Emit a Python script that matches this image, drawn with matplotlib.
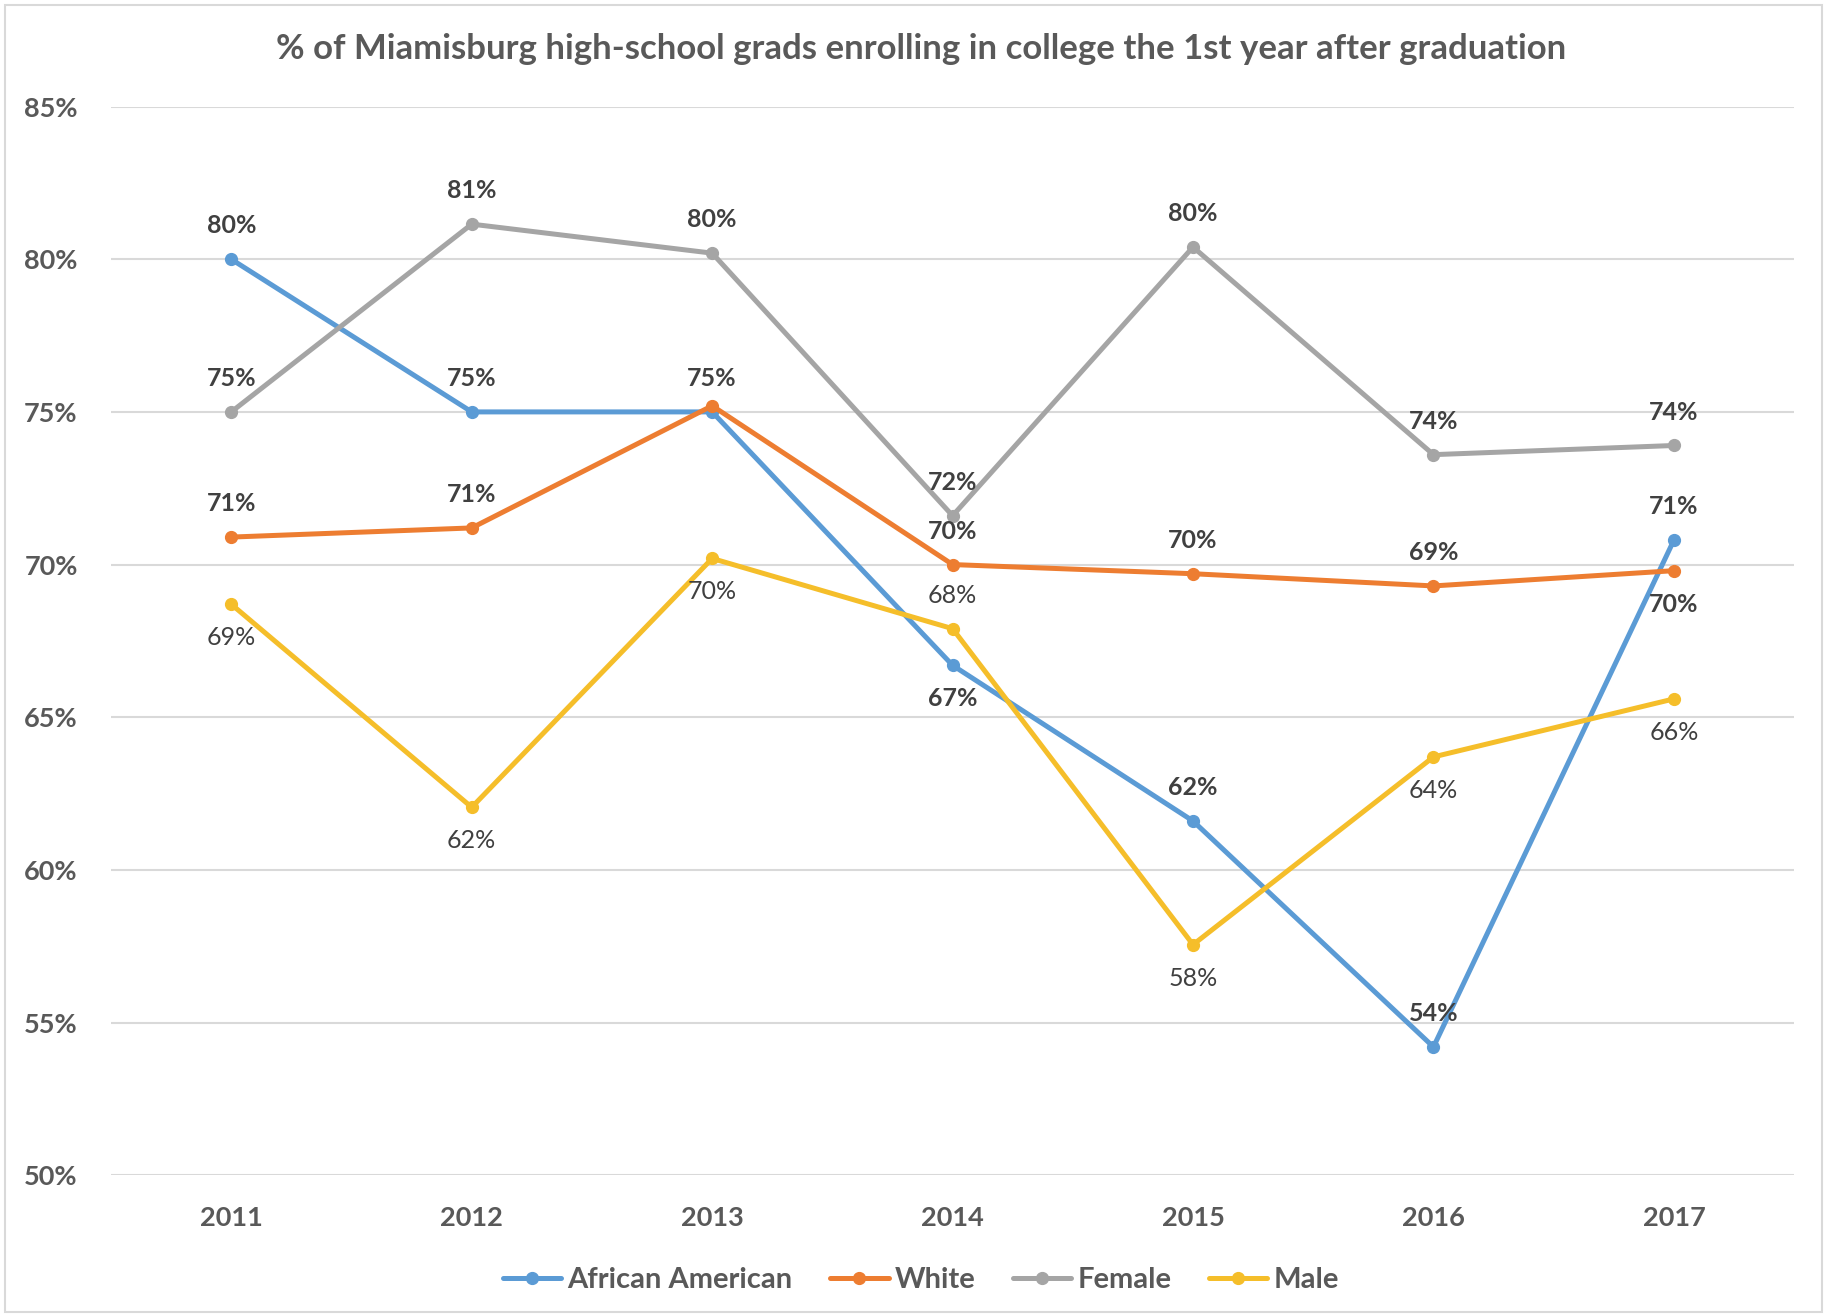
import matplotlib
matplotlib.use("Agg")
import matplotlib.pyplot as plt
from matplotlib.patches import Rectangle
from matplotlib.ticker import FuncFormatter, MultipleLocator

# データ
years = [2011, 2012, 2013, 2014, 2015, 2016, 2017]
african_american = [80.0, 75.0, 75.0, 66.7, 61.6, 54.2, 70.8]
white = [70.9, 71.2, 75.2, 70.0, 69.7, 69.3, 69.8]
female = [75.0, 81.15, 80.2, 71.6, 80.4, 73.6, 73.9]
male = [68.7, 62.05, 70.2, 67.9, 57.55, 63.7, 65.6]

series_names = ["African American", "White", "Female", "Male"]
colors = ["#5B9BD5", "#ED7D31", "#A5A5A5", "#F5BE2A"]

# ラベル位置 (1: 上, -1: 下, 0: 表示なし)
label_pos = [
    [1, 1, 1, -1, 1, 1, 1],
    [1, 1, 0, 1, 1, 1, -1],
    [1, 1, 1, 1, 1, 1, 1],
    [-1, -1, -1, 1, -1, -1, -1],
]

plt.rcParams['font.family'] = ['Lato', 'DejaVu Sans']

fig = plt.figure(figsize=(18.27, 13.16), dpi=100)
ax = fig.add_axes([0.0608, 0.107, 0.9212, 0.812])

all_series = [african_american, white, female, male]
for name, values, color, pos in zip(series_names, all_series, colors, label_pos):
    ax.plot(years, values, color=color, linewidth=3.6, marker='o',
            markersize=8.5, label=name, solid_capstyle='round', zorder=3)
    bold = name != "Male"
    for x, v, p in zip(years, values, pos):
        if p == 0:
            continue
        ax.annotate(f"{v:.0f}%", (x, v), xytext=(0, 24 * p),
                    textcoords='offset points', ha='center', va='center',
                    fontsize=18, color='#404040',
                    fontweight='bold' if bold else 'normal', zorder=4)

ax.set_xlim(2010.5, 2017.5)
ax.set_ylim(50, 85)
ax.set_xticks(years)
ax.yaxis.set_major_locator(MultipleLocator(5))
ax.yaxis.set_major_formatter(FuncFormatter(lambda v, p: f"{v:.0f}%"))
ax.grid(axis='y', color='#D9D9D9', linewidth=1.5, zorder=0)
ax.set_axisbelow(True)
for s in ax.spines.values():
    s.set_visible(False)
ax.tick_params(length=0, labelsize=19.5, labelcolor='#595959')
ax.tick_params(axis='x', pad=22)
ax.tick_params(axis='y', pad=24)
for lbl in ax.get_xticklabels() + ax.get_yticklabels():
    lbl.set_fontweight('bold')

fig.text(0.504, 0.963,
         "% of Miamisburg high-school grads enrolling in college the 1st year after graduation",
         ha='center', va='center', fontsize=25, fontweight='bold', color='#595959')

leg = fig.legend(loc='center', bbox_to_anchor=(0.504, 0.027), ncol=4,
                 frameon=False, fontsize=21, handlelength=2.0,
                 handletextpad=0.2, columnspacing=1.3)
for t in leg.get_texts():
    t.set_color('#595959')
    t.set_fontweight('bold')

fig.patches.append(Rectangle((0.003, 0.003), 0.994, 0.993, transform=fig.transFigure,
                             fill=False, edgecolor='#D9D9D9', linewidth=1.5))

fig.savefig("out.png", dpi=100)
